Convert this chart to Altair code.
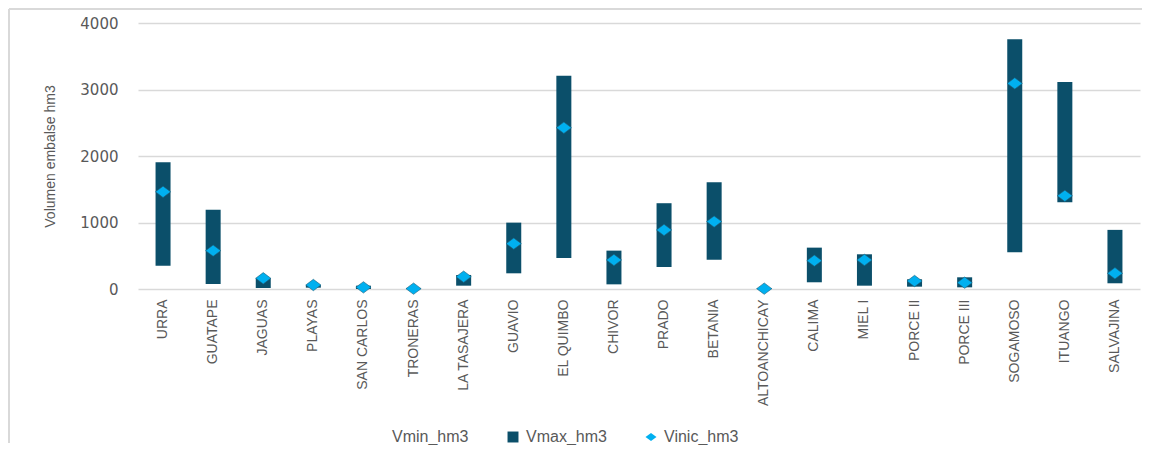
import altair as alt
import pandas as pd

names = ["URRA", "GUATAPE", "JAGUAS", "PLAYAS", "SAN CARLOS", "TRONERAS", "LA TASAJERA",
         "GUAVIO", "EL QUIMBO", "CHIVOR", "PRADO", "BETANIA", "ALTOANCHICAY", "CALIMA",
         "MIEL I", "PORCE II", "PORCE III", "SOGAMOSO", "ITUANGO", "SALVAJINA"]
vmin = [351, 75, 15, 20, 0, 0, 50, 236, 467, 70, 331, 441, 0, 101, 50, 35, 25, 553, 1306, 86]
vmax = [1907, 1190, 165, 60, 50, 10, 211, 998, 3208, 577, 1290, 1607, 10, 622, 522, 146, 176, 3755, 3113, 889]
vinic = [1461, 577, 161, 60, 25, 5, 185, 682, 2425, 437, 888, 1014, 5, 426, 437, 120, 95, 3092, 1401, 236]

series = ["Vmin_hm3", "Vmax_hm3", "Vinic_hm3"]
bar_color = "#0B4F6A"
pt_color = "#00B0F0"
diamond = "M-1,0L0,-0.75L1,0L0,0.75Z"

df = pd.DataFrame({"name": names, "Vmin_hm3": vmin, "Vmax_hm3": vmax, "Vinic_hm3": vinic})

grey = "#595959"

x_enc = alt.X("name:N", sort=names, title=None,
              scale=alt.Scale(paddingInner=0, paddingOuter=0),
              axis=alt.Axis(labelAngle=-90, labelFont="Liberation Sans", labelFontSize=14,
                            labelColor=grey, ticks=False, domain=False, labelPadding=10,
                            grid=False))
y_axis = alt.Axis(values=list(range(0, 4001, 500)), format="d",
                  labelFont="DejaVu Sans", labelFontSize=15,
                  labelColor=grey, ticks=False, domain=False, labelPadding=20,
                  gridColor="#D9D9D9", gridWidth=1.3,
                  title="Volumen embalse hm3", titleFont="Liberation Sans", titleFontSize=14,
                  titleFontWeight="normal", titleColor=grey, titleX=-81)
y_scale = alt.Scale(domain=[0, 4000], nice=False)

legend = alt.Legend(title=None, orient="none", legendX=233, legendY=406, direction="horizontal",
                    labelFont="Liberation Sans", labelFontSize=16, labelColor=grey,
                    symbolSize=120, symbolStrokeWidth=0, columnPadding=36, labelOffset=5)
color_scale = alt.Scale(domain=series, range=["transparent", bar_color, pt_color])
shape_scale = alt.Scale(domain=series, range=["square", "square", diamond])

base = alt.Chart(df)

bars = base.transform_calculate(series="'Vmax_hm3'").mark_bar(size=15).encode(
    x=x_enc,
    y=alt.Y("Vmin_hm3:Q", scale=y_scale, axis=y_axis),
    y2="Vmax_hm3:Q",
    color=alt.Color("series:N", scale=color_scale, legend=legend),
)

points = base.transform_calculate(series="'Vinic_hm3'").mark_point(
    filled=True, size=230, stroke="#1F5F7A", strokeWidth=0.6, opacity=1).encode(
    x=alt.X("name:N", sort=names),
    y=alt.Y("Vinic_hm3:Q", scale=y_scale),
    color=alt.Color("series:N", scale=color_scale, legend=legend),
    shape=alt.Shape("series:N", scale=shape_scale, legend=legend),
)

frame_top = base.mark_rule(color="#D9D9D9", strokeWidth=2).encode(
    x=alt.value(-129), x2=alt.value(1004), y=alt.value(-14))
frame_left = base.mark_rule(color="#D9D9D9", strokeWidth=2).encode(
    x=alt.value(-129), y=alt.value(-14), y2=alt.value(420))

chart = alt.layer(frame_top, frame_left, bars, points).properties(
    width=1002, height=266,
    padding={"left": 0, "top": 0, "right": 0, "bottom": 0},
).configure_view(stroke=None)

chart.save("out.html", embed_options={"renderer": "svg", "actions": False})
